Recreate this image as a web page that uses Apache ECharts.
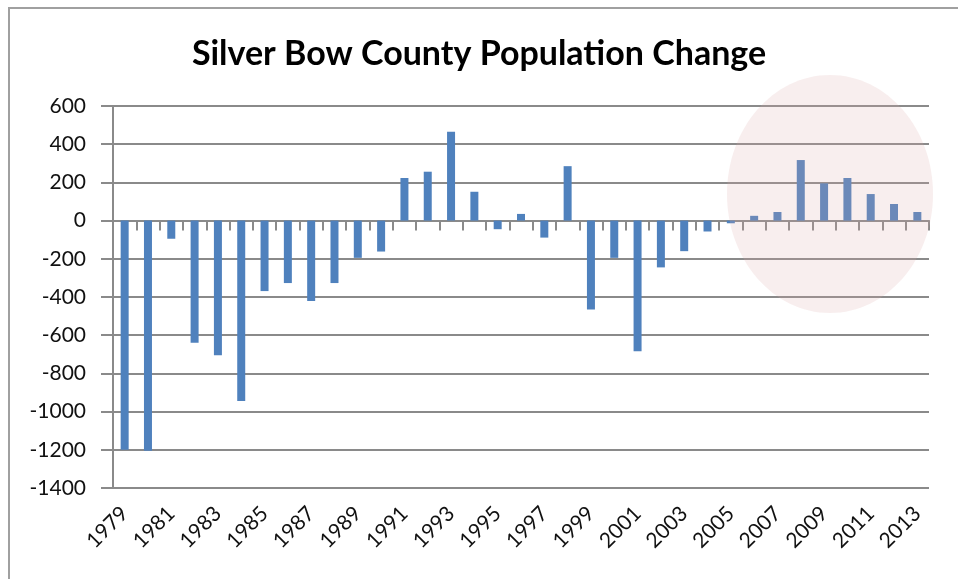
<!DOCTYPE html>
<html>
<head>
<meta charset="utf-8">
<script src="https://cdn.jsdelivr.net/npm/echarts@6/dist/echarts.min.js"></script>
<style>
  html, body { margin: 0; padding: 0; background: #fff; }
  #main { width: 958px; height: 579px; }
</style>
</head>
<body>
<div id="main"></div>
<script>
// years on the x axis
var years = [];
for (var y = 1979; y <= 2013; y++) years.push(String(y));

// yearly population change
var change = [
  -1200, -1205, -95, -640, -705, -945, -369, -327, -421, -327,
  -195, -162, 223, 256, 465, 151, -45, 35, -89, 285,
  -465, -195, -684, -245, -160, -57, -14, 25, 45, 317,
  195, 223, 139, 87, 45
];

var yMin = -1400, yMax = 600, yStep = 200;

var chart = echarts.init(document.getElementById("main"));
var gridColor = "#8a8a8a";
var font = "Lato, 'Open Sans', sans-serif";

chart.setOption({
  animation: false,
  backgroundColor: "#fff",
  title: {
    text: "Silver Bow County Population Change",
    left: "center",
    top: 32,
    textStyle: { fontFamily: font, fontWeight: "bold", fontSize: 34, color: "#000" }
  },
  grid: { left: 113, right: 29, top: 106, bottom: 91 },
  xAxis: [
    {
      // axis on the zero line, carrying the ticks
      type: "category",
      data: years,
      axisLine: { onZero: true, lineStyle: { color: gridColor, width: 2 } },
      axisTick: { show: true, length: 10, interval: 0, lineStyle: { color: gridColor, width: 2 } },
      axisLabel: { show: false }
    },
    {
      // labels only, at the bottom
      type: "category",
      data: years,
      position: "bottom",
      axisLine: { show: false },
      axisTick: { show: false },
      axisLabel: {
        interval: 1, rotate: 45, margin: 22,
        fontFamily: font, fontSize: 21, color: "#111"
      }
    }
  ],
  yAxis: {
    type: "value",
    min: yMin, max: yMax, interval: yStep,
    axisLine: { show: true, lineStyle: { color: gridColor, width: 2 } },
    axisTick: { show: true, length: 12, lineStyle: { color: gridColor, width: 2 } },
    axisLabel: {
      margin: 27, fontFamily: font, fontSize: 21, color: "#111",
      formatter: function (v) { return String(v); }
    },
    splitLine: { lineStyle: { color: gridColor, width: 2 } }
  },
  series: [
    {
      type: "bar",
      data: change,
      xAxisIndex: 0,
      barWidth: 8,
      itemStyle: { color: "#4f81bd" }
    }
  ],
  graphic: [
    {
      type: "rect",
      shape: { x: 9, y: 8, width: 1000, height: 700 },
      style: { fill: null, stroke: "#a0a0a0", lineWidth: 2 },
      silent: true
    },
    {
      type: "ellipse",
      shape: { cx: 830, cy: 194, rx: 103, ry: 119 },
      style: { fill: "rgba(222,170,170,0.2)" },
      z: 100,
      silent: true
    }
  ]
});
</script>
</body>
</html>
